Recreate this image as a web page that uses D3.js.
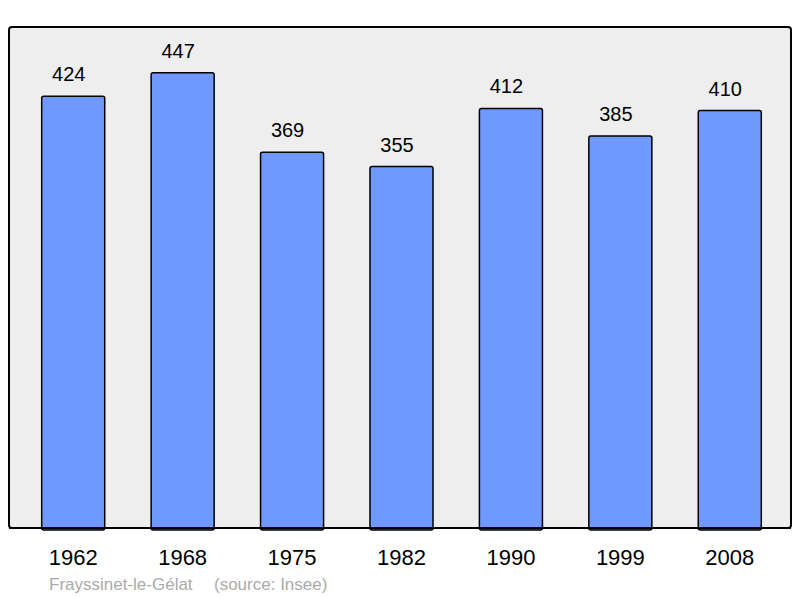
<!DOCTYPE html>
<html>
<head>
<meta charset="utf-8">
<script src="https://cdn.jsdelivr.net/npm/d3@7"></script>
<style>
  body { margin: 0; background: #fff; }
  text { font-family: "Liberation Sans", Arial, sans-serif; }
</style>
</head>
<body>
<div id="chart"></div>
<script>
const years = ["1962", "1968", "1975", "1982", "1990", "1999", "2008"];
const population = [424, 447, 369, 355, 412, 385, 410];
const commune = "Frayssinet-le-Gélat";
const source = "(source: Insee)";

const width = 800, height = 598;
const panel = { left: 9, top: 27, right: 791, bottom: 528 };

const svg = d3.select("#chart")
  .append("svg")
  .attr("width", width)
  .attr("height", height);

svg.append("rect")
  .attr("x", panel.left)
  .attr("y", panel.top)
  .attr("width", panel.right - panel.left)
  .attr("height", panel.bottom - panel.top)
  .attr("rx", 3)
  .attr("fill", "#eeeeee")
  .attr("stroke", "#000")
  .attr("stroke-width", 2);

const x = d3.scaleBand()
  .domain(years)
  .range([18.5, 784.5])
  .paddingInner(0.424)
  .paddingOuter(0.212);

const y = d3.scaleLinear()
  .domain([0, 492])
  .range([panel.bottom, panel.top]);

const data = years.map((d, i) => ({ year: d, value: population[i] }));

svg.selectAll("rect.bar")
  .data(data)
  .join("rect")
  .attr("class", "bar")
  .attr("x", d => x(d.year))
  .attr("y", d => y(d.value))
  .attr("width", x.bandwidth())
  .attr("height", d => y(0) - y(d.value) + 2)
  .attr("rx", 2)
  .attr("fill", "#7099ff")
  .attr("stroke", "#000")
  .attr("stroke-width", 1.5);

// redraw bottom edge of panel over the bars
svg.append("line")
  .attr("x1", panel.left)
  .attr("x2", panel.right)
  .attr("y1", panel.bottom)
  .attr("y2", panel.bottom)
  .attr("stroke", "#000")
  .attr("stroke-width", 2);

// value labels sit a little left of the bar centre in the original
svg.selectAll("text.value")
  .data(data)
  .join("text")
  .attr("class", "value")
  .attr("x", d => x(d.year) + x.bandwidth() / 2 - 4.5)
  .attr("y", d => y(d.value) - 15)
  .attr("text-anchor", "middle")
  .style("font-size", "20px")
  .attr("fill", "#000")
  .text(d => d.value);

svg.selectAll("text.year")
  .data(years)
  .join("text")
  .attr("class", "year")
  .attr("x", d => x(d) + x.bandwidth() / 2)
  .attr("y", 565)
  .attr("text-anchor", "middle")
  .style("font-size", "22px")
  .attr("fill", "#000")
  .text(d => d);

svg.append("text")
  .attr("x", 49)
  .attr("y", 590)
  .style("font-size", "17px")
  .attr("fill", "#aaaaaa")
  .text(commune);

svg.append("text")
  .attr("x", 214)
  .attr("y", 590)
  .style("font-size", "17px")
  .attr("fill", "#aaaaaa")
  .text(source);
</script>
</body>
</html>
